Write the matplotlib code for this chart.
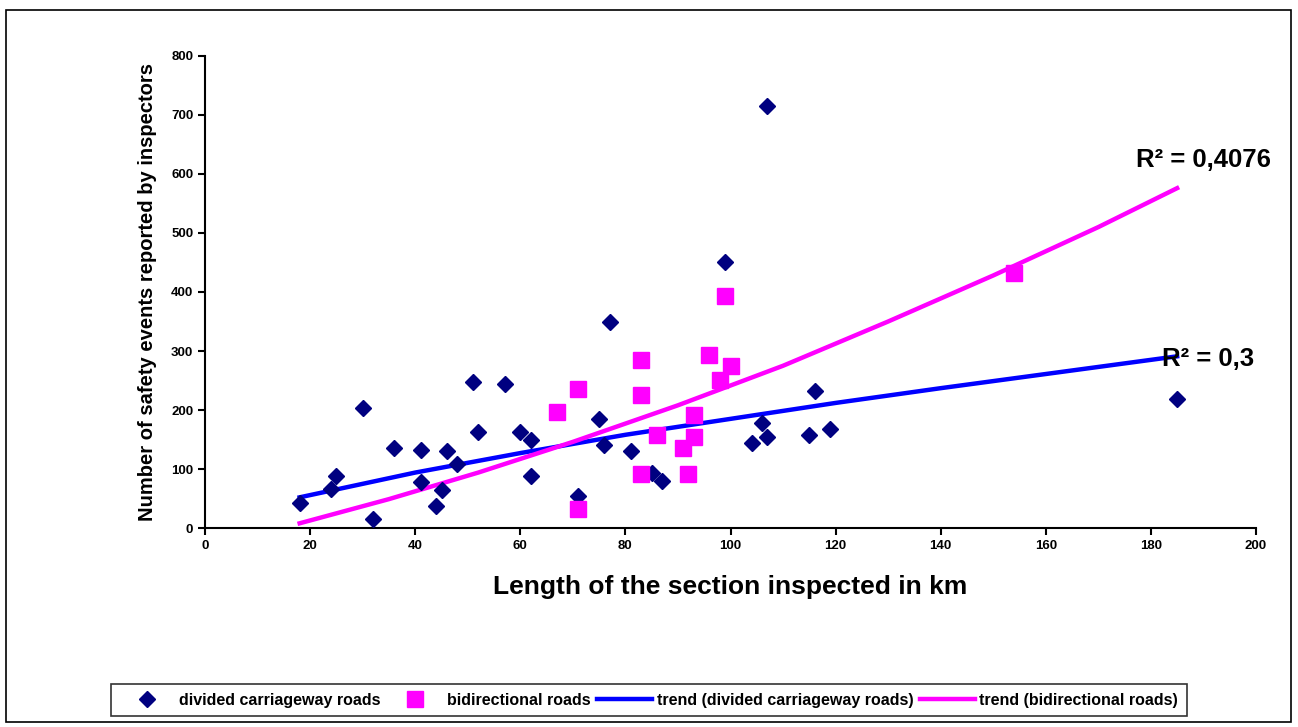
import matplotlib.pyplot as plt
from matplotlib.patches import Rectangle

plt.rcParams['font.family'] = ['Liberation Sans', 'DejaVu Sans']
plt.rcParams['font.weight'] = 'bold'

# divided carriageway roads
div_x = [18, 24, 25, 30, 32, 36, 41, 41, 44, 45, 46, 48, 51, 52, 57, 60, 62, 62,
         71, 75, 76, 77, 81, 85, 87, 99, 104, 106, 107, 107, 115, 116, 119, 185]
div_y = [42, 66, 89, 204, 16, 135, 132, 78, 37, 64, 131, 108, 248, 162, 244, 163, 150, 89,
         54, 185, 140, 349, 131, 93, 80, 450, 144, 178, 154, 715, 158, 233, 168, 219]

# bidirectional roads
bi_x = [67, 71, 71, 83, 83, 83, 86, 91, 92, 93, 93, 96, 98, 99, 100, 154]
bi_y = [196, 236, 32, 285, 225, 91, 158, 135, 91, 191, 155, 293, 251, 394, 275, 432]

# trend lines
trend_div_x = [18, 40, 60, 80, 100, 120, 140, 160, 185]
trend_div_y = [52, 94, 127, 158, 185, 212, 237, 261, 291]
trend_bi_x = [18, 35, 52, 70, 90, 110, 130, 150, 170, 185]
trend_bi_y = [8, 49, 94, 146, 208, 275, 350, 428, 510, 576]

fig = plt.figure(figsize=(12.98, 7.27), dpi=100)
ax = fig.add_axes([0.158, 0.2737, 0.8096, 0.6493])

ax.plot(trend_div_x, trend_div_y, color='#0000FF', lw=3.2, zorder=2,
        label='trend (divided carriageway roads)')
ax.plot(trend_bi_x, trend_bi_y, color='#FF00FF', lw=3.2, zorder=2,
        label='trend (bidirectional roads)')
ax.plot(div_x, div_y, 'D', color='#000080', ms=8.5, mec='#000080', zorder=3,
        label='divided carriageway roads')
ax.plot(bi_x, bi_y, 's', color='#FF00FF', ms=11, mec='#FF00FF', zorder=3,
        label='bidirectional roads')

ax.set_xlim(0, 200)
ax.set_ylim(0, 800)
ax.set_xticks(range(0, 201, 20))
ax.set_yticks(range(0, 801, 100))
for s in ['top', 'right']:
    ax.spines[s].set_visible(False)
for s in ['left', 'bottom']:
    ax.spines[s].set_linewidth(1.5)
ax.tick_params(direction='out', length=5, width=1.5, labelsize=9.5)
for t in ax.get_xticklabels() + ax.get_yticklabels():
    t.set_fontweight('bold')

ax.set_xlabel('Length of the section inspected in km', fontsize=19, fontweight='bold', labelpad=17)
ax.set_ylabel('Number of safety events reported by inspectors', fontsize=14.5, fontweight='bold', labelpad=10)

ax.text(177.2, 612, 'R² = 0,4076', fontsize=18.5, fontweight='bold')
ax.text(182.1, 274, 'R² = 0,3', fontsize=18.5, fontweight='bold')

h, l = ax.get_legend_handles_labels()
order = [2, 3, 0, 1]
leg = fig.legend([h[i] for i in order], [l[i] for i in order], loc='center',
                 bbox_to_anchor=(0.5, 0.037), ncol=4, frameon=True,
                 fancybox=False, edgecolor='black', handlelength=3.4, handletextpad=0.3,
                 columnspacing=0.45, borderpad=0.55, prop={'weight': 'bold', 'size': 11.5})
leg.get_frame().set_linewidth(1.2)

fig.patches.append(Rectangle((6 / 1298, 1 - 722 / 727), 1285 / 1298, 712 / 727,
                             transform=fig.transFigure, fill=False, edgecolor='black', lw=1.2))

fig.savefig('out.png', dpi=100)
